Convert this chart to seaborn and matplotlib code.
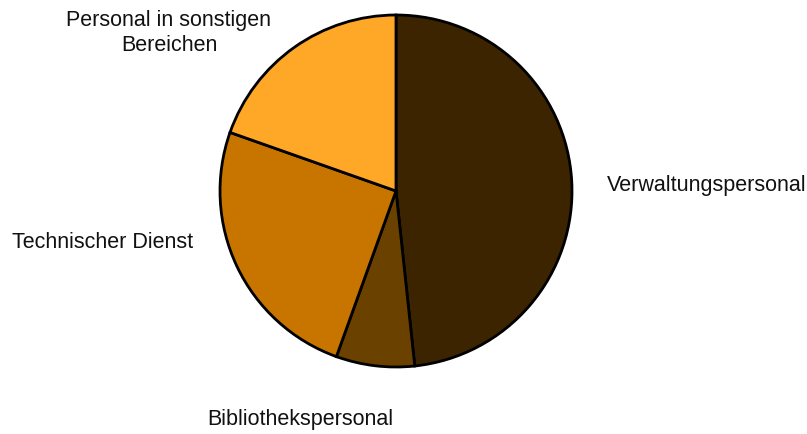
import matplotlib
matplotlib.use("Agg")
import matplotlib.pyplot as plt
import seaborn as sns

sns.set_theme(style="white")
plt.rcParams['font.family'] = ['Liberation Sans', 'DejaVu Sans']

categories = ["Verwaltungspersonal", "Bibliothekspersonal", "Technischer Dienst",
              "Personal in sonstigen\nBereichen"]
values = [48.3, 7.2, 24.9, 19.6]
colors = ["#3D2400", "#6B4100", "#C87500", "#FFA726"]

fig = plt.figure(figsize=(8.07, 4.34), dpi=100)
W, H = 807, 434
cx, cy, r = 396, 191, 176
ax = fig.add_axes([(cx - r) / W, (H - cy - r) / H, 2 * r / W, 2 * r / H])

wedges, texts = ax.pie(values, labels=categories, colors=colors, startangle=90,
                       counterclock=False,
                       wedgeprops=dict(edgecolor="black", linewidth=2),
                       textprops=dict(fontsize=15.5, color="#111111"))
ax.set_xlim(-1, 1)
ax.set_ylim(-1, 1)
ax.set_aspect('equal')
for w in wedges:
    w.set_clip_on(False)

# label placement (radius units relative to the centre)
label_pos = [(1.199, 0.03, 'left', 'center'),
             (-0.545, -1.30, 'center', 'center'),
             (-1.153, -0.295, 'right', 'center'),
             (-1.29, 0.90, 'center', 'center')]
for t, (x, y, ha, va) in zip(texts, label_pos):
    t.set_position((x, y))
    t.set_ha(ha)
    t.set_va(va)
    t.set_multialignment('center')
    t.set_linespacing(1.25)

fig.savefig("out.png", dpi=100)
